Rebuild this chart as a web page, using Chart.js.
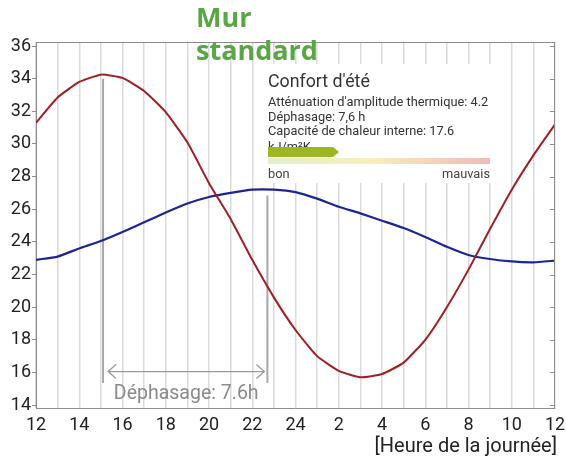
<!DOCTYPE html>
<html>
<head>
<meta charset="utf-8">
<script src="https://cdn.jsdelivr.net/npm/chart.js@4"></script>
<style>
  html, body { margin: 0; padding: 0; background: #fff; }
  #wrap { width: 566px; height: 459px; }
</style>
</head>
<body>
<div id="wrap"><canvas id="murChart" width="566" height="459"></canvas></div>
<script>
// heures (12 h -> 12 h le lendemain)
var hours = [12,13,14,15,16,17,18,19,20,21,22,23,24,25,26,27,28,29,30,31,32,33,34,35,36];
// température extérieure (rouge)
var tempExt = [31.3,32.85,33.8,34.25,34.05,33.25,31.95,30.1,27.6,25.4,22.9,20.6,18.6,17.0,16.1,15.7,15.9,16.6,18.0,20.0,22.3,24.8,27.2,29.3,31.2];
// température intérieure (bleu)
var tempInt = [22.9,23.1,23.6,24.05,24.6,25.2,25.8,26.35,26.75,27.0,27.2,27.2,27.05,26.65,26.15,25.75,25.3,24.85,24.3,23.7,23.2,22.95,22.8,22.75,22.85];
var yTicks = [14,16,18,20,22,24,26,28,30,32,34,36];
// déphasage : début / fin en heures, hauteurs des traits
var phaseStart = 15.1, phaseEnd = 22.7;
var phaseTopStart = 34.0, phaseTopEnd = 26.85, phaseBottom = 15.35, phaseArrowY = 16.05;
var phaseLabel = 'Déphasage: 7.6h';
var xTitle = '[Heure de la journée]';

var infoLines = [
    "Atténuation d'amplitude thermique: 4.2",
    "Déphasage: 7,6 h",
    "Capacité de chaleur interne: 17.6"
];

function pts(xs, ys) {
    return xs.map(function(x, i) { return {x: x, y: ys[i]}; });
}

var decor = {
    id: 'decor',
    afterDraw: function(chart) {
        var ctx = chart.ctx, a = chart.chartArea;
        var xs = chart.scales.x, ys = chart.scales.y;
        ctx.save();
        // cadre haut + droite
        ctx.strokeStyle = '#8c8c8c';
        ctx.lineWidth = 1;
        ctx.beginPath();
        ctx.moveTo(a.left, a.top + 0.5); ctx.lineTo(a.right, a.top + 0.5);
        ctx.moveTo(a.right - 0.5, a.top); ctx.lineTo(a.right - 0.5, a.bottom);
        yTicks.forEach(function(v) {
            var py = Math.round(ys.getPixelForValue(v)) + 0.5;
            ctx.moveTo(a.right - 5, py); ctx.lineTo(a.right, py);
        });
        ctx.stroke();

        // titre de l'axe x
        ctx.fillStyle = '#222';
        ctx.font = '20px Roboto';
        ctx.textAlign = 'right';
        ctx.textBaseline = 'middle';
        ctx.fillText(xTitle, a.right + 2, 447);

        // flèche déphasage
        var x1 = xs.getPixelForValue(phaseStart) + 5, x2 = xs.getPixelForValue(phaseEnd) - 3;
        var ay = ys.getPixelForValue(phaseArrowY);
        ctx.strokeStyle = '#9a9a9a';
        ctx.lineWidth = 1.3;
        ctx.beginPath();
        ctx.moveTo(x1, ay); ctx.lineTo(x2, ay);
        ctx.moveTo(x1 + 8, ay - 7); ctx.lineTo(x1, ay); ctx.lineTo(x1 + 8, ay + 7);
        ctx.moveTo(x2 - 8, ay - 7); ctx.lineTo(x2, ay); ctx.lineTo(x2 - 8, ay + 7);
        ctx.stroke();
        ctx.fillStyle = '#8a8a8a';
        ctx.font = '19.5px Roboto';
        ctx.textAlign = 'center';
        ctx.fillText(phaseLabel, (x1 + x2) / 2, ay + 23);

        // encadré confort d'été
        var bx = 262, by = 64, bw = 230, bh = 119;
        ctx.fillStyle = '#fff';
        ctx.fillRect(bx, by, bw, bh);
        ctx.textAlign = 'left';
        ctx.textBaseline = 'alphabetic';
        ctx.fillStyle = '#333';
        ctx.font = '17.8px Roboto';
        ctx.fillText("Confort d'été", 268, 87);
        ctx.font = '12.8px Roboto';
        ctx.fillText(infoLines[0], 268, 106);
        ctx.fillText(infoLines[1], 268, 121);
        ctx.fillText(infoLines[2], 268, 135);
        ctx.fillText('kJ/m²K', 268, 151);
        var grad = ctx.createLinearGradient(268, 0, 490, 0);
        grad.addColorStop(0, '#e3efd0');
        grad.addColorStop(0.45, '#f6f0b8');
        grad.addColorStop(1, '#f3b9b9');
        ctx.fillStyle = grad;
        ctx.fillRect(268, 158, 222, 6);
        ctx.fillStyle = '#9cb721';
        ctx.beginPath();
        ctx.moveTo(268, 147); ctx.lineTo(333, 147); ctx.lineTo(339, 152);
        ctx.lineTo(333, 157); ctx.lineTo(268, 157); ctx.closePath();
        ctx.fill();
        ctx.fillStyle = '#444';
        ctx.font = '12.8px Roboto';
        ctx.fillText('bon', 268, 178);
        ctx.textAlign = 'right';
        ctx.fillText('mauvais', 490, 178);

        // titre
        ctx.textAlign = 'left';
        ctx.fillStyle = '#5aa645';
        ctx.font = 'bold 27px "Open Sans"';
        ctx.fillText('Mur', 196, 27);
        ctx.fillText('standard', 196, 60);
        ctx.restore();
    }
};

var ctx = document.getElementById('murChart').getContext('2d');
var chart = new Chart(ctx, {
    type: 'line',
    data: {
        datasets: [{
            data: pts(hours, tempExt),
            borderColor: '#9e1f24',
            borderWidth: 2,
            pointRadius: 0,
            tension: 0.15
        }, {
            data: pts(hours, tempInt),
            borderColor: '#1f2590',
            borderWidth: 2.2,
            pointRadius: 0,
            tension: 0.15
        }, {
            data: [{x: phaseStart, y: phaseTopStart}, {x: phaseStart, y: phaseBottom}],
            borderColor: '#a8a8a8',
            borderWidth: 2,
            pointRadius: 0
        }, {
            data: [{x: phaseEnd, y: phaseTopEnd}, {x: phaseEnd, y: phaseBottom}],
            borderColor: '#a8a8a8',
            borderWidth: 2,
            pointRadius: 0
        }]
    },
    options: {
        responsive: false,
        animation: false,
        devicePixelRatio: 1,
        layout: { padding: { top: 42, right: 11, left: 0, bottom: 0 } },
        plugins: { legend: { display: false }, tooltip: { enabled: false } },
        scales: {
            x: {
                type: 'linear',
                min: 12,
                max: 36,
                afterFit: function(s) { s.height = 51; s.paddingLeft = 0; s.paddingRight = 0; },
                grid: { color: '#dadada', lineWidth: 1.5, drawTicks: false },
                border: { color: '#8c8c8c', width: 1 },
                ticks: {
                    stepSize: 1,
                    autoSkip: false,
                    maxRotation: 0,
                    padding: 7,
                    color: '#222',
                    font: { family: 'Roboto', size: 18 },
                    callback: function(v) {
                        if (v % 2 !== 0) return '';
                        return String(v > 24 ? v - 24 : v);
                    }
                }
            },
            y: {
                min: 13.82,
                max: 36.25,
                afterFit: function(s) { s.width = 36; s.paddingTop = 0; s.paddingBottom = 0; },
                grid: { drawOnChartArea: false, tickLength: 4, color: '#8c8c8c' },
                border: { color: '#8c8c8c', width: 1 },
                ticks: {
                    stepSize: 2,
                    includeBounds: false,
                    padding: 1,
                    color: '#222',
                    font: { family: 'Roboto', size: 18 }
                }
            }
        }
    },
    plugins: [decor]
});
</script>
</body>
</html>
